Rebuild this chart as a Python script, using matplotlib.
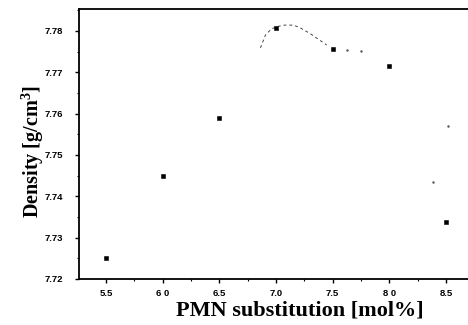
import matplotlib
matplotlib.use('Agg')
import matplotlib.pyplot as plt
from matplotlib.ticker import MultipleLocator

plt.rcParams['mathtext.fontset'] = 'custom'
plt.rcParams['mathtext.rm'] = 'Liberation Serif'
plt.rcParams['mathtext.bf'] = 'Liberation Serif:bold'

# measured densities
pmn = [5.5, 6.0, 6.5, 7.0, 7.5, 8.0, 8.5]
density = [7.725, 7.745, 7.759, 7.7807, 7.7757, 7.7716, 7.7337]

# faint fitted curve remnants
curve_x = [6.863, 6.907, 6.96, 7.02, 7.066, 7.155, 7.217, 7.305, 7.394, 7.447]
curve_y = [7.7759, 7.779, 7.7805, 7.7811, 7.7814, 7.7814, 7.7807, 7.7793, 7.7776, 7.7766]
stray_x = [7.624, 7.748, 8.39, 8.52]
stray_y = [7.7754, 7.7752, 7.7434, 7.757]

xtick_labels = ['5.5', '6 0', '6.5', '7.0', '7.5', '8 0', '8.5']
yticks = [7.72, 7.73, 7.74, 7.75, 7.76, 7.77, 7.78]

fig = plt.figure(figsize=(4.68, 3.25), dpi=100)
ax = fig.add_axes([79 / 468, 46 / 325, 389 / 468, 270 / 325])

ax.plot(curve_x, curve_y, linestyle=(0, (3, 3)), color='#444444', linewidth=0.7)
ax.plot(stray_x, stray_y, linestyle='none', marker='.', markersize=1.5, color='#555555')
ax.plot(pmn, density, linestyle='none', marker='s', markersize=3.4,
        markeredgewidth=0.4, color='black')

ax.set_xlim(5.261, 8.695)
ax.set_ylim(7.72, 7.7853)
ax.xaxis.set_minor_locator(MultipleLocator(0.25))
ax.yaxis.set_minor_locator(MultipleLocator(0.005))
ax.set_xticks(pmn)
ax.set_xticklabels(xtick_labels)
ax.set_yticks(yticks)
ax.set_yticklabels(['%.2f' % v for v in yticks])

ax.spines['right'].set_visible(False)
for s in ['left', 'bottom', 'top']:
    ax.spines[s].set_linewidth(1.3)
ax.tick_params(which='major', direction='out', length=3, width=1, labelsize=6.8)
ax.tick_params(axis='x', which='major', pad=4.5)
ax.tick_params(axis='y', which='major', pad=8.5)
ax.tick_params(which='minor', direction='out', length=1.5, width=0.8)
for lbl in ax.get_xticklabels() + ax.get_yticklabels():
    lbl.set_fontweight('bold')
    lbl.set_fontfamily('Liberation Sans')

ax.set_xlabel('PMN substitution [mol%]', fontsize=16, fontweight='bold',
              fontfamily='Liberation Serif', va='top')
ax.xaxis.set_label_coords(0.568, -0.078)
ax.set_ylabel('Density [g/cm$^{\\mathbf{3}}$]', fontsize=14.5, fontweight='bold',
              fontfamily='Liberation Serif', va='bottom')
ax.yaxis.set_label_coords(-0.085, 0.474)

fig.savefig('out.png', dpi=100)
